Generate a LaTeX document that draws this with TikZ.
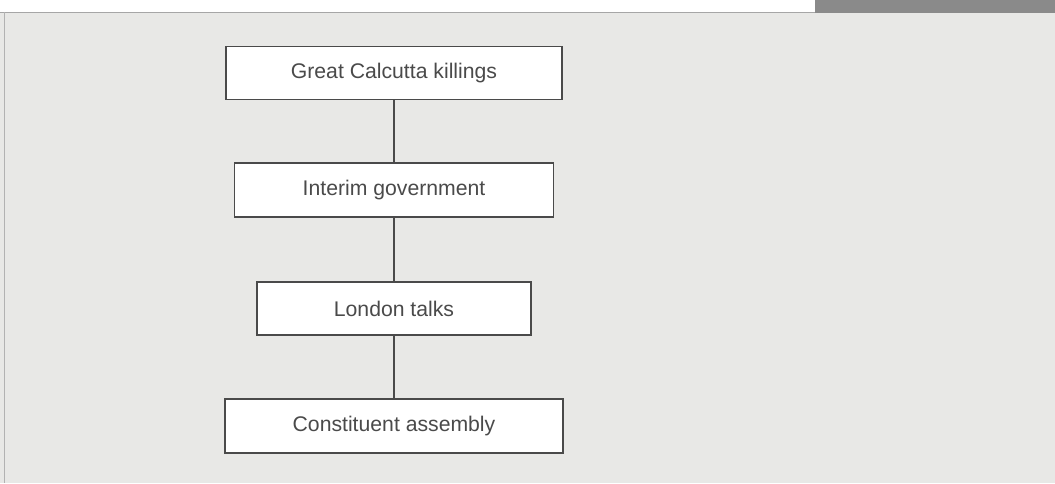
\documentclass[tikz,border=0pt]{standalone}
\usepackage{fontspec}
\setmainfont{Liberation Sans}
\definecolor{pagegray}{HTML}{E8E8E6}
\definecolor{bargray}{HTML}{8A8A8A}
\definecolor{inkgray}{HTML}{4A4A4A}
\begin{document}
\begin{tikzpicture}[x=1pt, y=-1pt,
        eventbox/.style={draw=inkgray, fill=white, line width=1.1pt, text=inkgray,
            font=\fontsize{21.2}{24}\selectfont, inner sep=0pt, minimum height=53pt}]
        \useasboundingbox (0,0) rectangle (1055,483);
        \fill[pagegray] (0,0) rectangle (1055,483);

        % top strip of the page
        \fill[white] (0,0) rectangle (815,12);
        \draw[gray!70, line width=1pt] (0,12) -- (815,12);
        \fill[bargray] (815,0) rectangle (1055,13);
        \draw[gray!60, line width=1pt] (4,12) -- (4,483);

        \node[eventbox, minimum width=336pt] (killings) at (394,73) {Great Calcutta killings};
        \node[eventbox, minimum width=319pt, minimum height=54pt] (interim) at (394,190) {Interim government};
        \node[eventbox, minimum width=274pt] (talks) at (394,308.5) {London talks};
        \node[eventbox, minimum width=338pt, minimum height=54pt] (assembly) at (394,426) {Constituent assembly};

        \draw[inkgray, line width=1.1pt] (killings.south) -- (interim.north);
        \draw[inkgray, line width=1.1pt] (interim.south) -- (talks.north);
        \draw[inkgray, line width=1.1pt] (talks.south) -- (assembly.north);
    \end{tikzpicture}
\end{document}
